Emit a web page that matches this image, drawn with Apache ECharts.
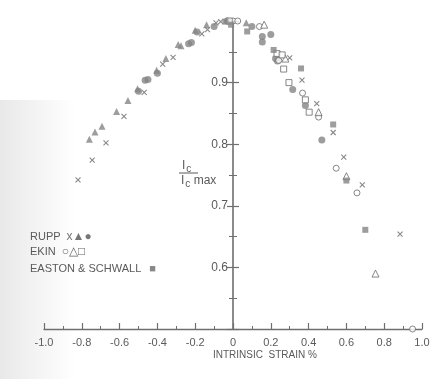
<!DOCTYPE html>
<html>
<head>
<meta charset="utf-8">
<script src="https://cdn.jsdelivr.net/npm/echarts@6/dist/echarts.min.js"></script>
<style>
html,body{margin:0;padding:0;background:#fff;}
#c{width:440px;height:379px;}
</style>
</head>
<body>
<div id="c"></div>
<script>
// ---- data (intrinsic strain %, Ic/Ic max) ----
var xTicks = [-1.0, -0.8, -0.6, -0.4, -0.2, 0, 0.2, 0.4, 0.6, 0.8, 1.0];
var yTicks = [0.6, 0.7, 0.8, 0.9];

var ruppCross = [[-0.82,0.742],[-0.745,0.774],[-0.672,0.802],[-0.577,0.845],[-0.47,0.884],[-0.372,0.93],[-0.317,0.941],[-0.165,0.979],[-0.135,0.986],[-0.09,0.997],[-0.065,0.999],[0.30,0.94],[0.365,0.904],[0.443,0.866],[0.53,0.819],[0.586,0.779],[0.684,0.734],[0.884,0.654]];
var ruppTriangle = [[-0.76,0.808],[-0.73,0.82],[-0.693,0.829],[-0.616,0.853],[-0.556,0.871],[-0.505,0.89],[-0.404,0.92],[-0.355,0.939],[-0.29,0.962],[-0.275,0.96],[-0.2,0.985],[-0.14,0.994],[0.07,0.997]];
var ruppCircle = [[-0.50,0.886],[-0.465,0.904],[-0.45,0.905],[-0.40,0.915],[-0.235,0.963],[-0.22,0.965],[-0.19,0.982],[-0.1,0.991],[-0.03,1.0],[0.10,0.991],[0.155,0.975],[0.2,0.978],[0.155,0.966],[0.225,0.939],[0.235,0.935],[0.316,0.889],[0.383,0.863],[0.47,0.807]];
var ekinCircle = [[0.0,1.0],[0.025,1.0],[0.14,0.991],[0.242,0.936],[0.368,0.883],[0.453,0.844],[0.546,0.761],[0.656,0.721],[0.95,0.5]];
var ekinTriangle = [[0.165,0.994],[0.277,0.939],[0.453,0.852],[0.60,0.748],[0.754,0.59]];
var ekinSquare = [[-0.02,1.0],[0.233,0.947],[0.26,0.945],[0.268,0.922],[0.296,0.9],[0.383,0.872],[0.403,0.852]];
var eastonSquare = [[-0.04,0.999],[-0.01,0.994],[0.075,0.983],[0.215,0.953],[0.36,0.923],[0.53,0.832],[0.60,0.741],[0.70,0.661]];

var chart = echarts.init(document.getElementById('c'), null, {renderer:'canvas'});
var FONT = 'Liberation Sans';
var AX = '#6f6f6f';
var TXT = '#5a5a5a';
var FILL = '#858585';
var OPEN = '#6a6a6a';
var GRID_L = 44, GRID_W = 378;

function fmtX(v){ if (Math.abs(v) < 1e-9) return '0'; return v.toFixed(1); }
function fmtY(v){ for (var i=0;i<yTicks.length;i++){ if (Math.abs(yTicks[i]-v)<1e-6) return v.toFixed(1);} return ''; }

function yAx(outer){
  return {
    type:'value', min:0.5, max:1.0, interval:0.1,
    position:'left', offset:-GRID_W/2,
    axisLine:{show:outer, onZero:false, lineStyle:{color:AX, width:1.6}},
    axisTick:{show:true, inside:!outer, length:6, lineStyle:{color:AX, width:1.2}},
    minorTick:{show:true, splitNumber:2, length:4, lineStyle:{color:AX, width:1}},
    axisLabel:{show:outer, formatter:fmtY, margin:5, color:TXT, fontFamily:FONT, fontSize:12},
    splitLine:{show:false}
  };
}

var crossPath = 'path://M0,0L10,10M10,0L0,10';
var openStyle = {color:'#fff', borderColor:OPEN, borderWidth:1};

chart.setOption({
  animation:false,
  backgroundColor:'#fff',
  grid:{left:GRID_L, width:GRID_W, top:21, bottom:50, containLabel:false},
  xAxis:{
    type:'value', min:-1, max:1, interval:0.2,
    axisLine:{onZero:false, lineStyle:{color:AX, width:1.3}},
    axisTick:{inside:true, length:6, lineStyle:{color:AX, width:1.2}},
    minorTick:{show:true, splitNumber:2, length:3, lineStyle:{color:AX, width:1}},
    axisLabel:{formatter:fmtX, margin:8, color:TXT, fontFamily:FONT, fontSize:11},
    splitLine:{show:false}
  },
  yAxis:[yAx(true), yAx(false)],
  graphic:[
    {type:'rect', z:-10, shape:{x:0, y:100, width:75, height:279},
     style:{fill:new echarts.graphic.LinearGradient(0,0,1,0,[{offset:0,color:'rgba(205,205,205,0.45)'},{offset:1,color:'rgba(205,205,205,0)'}])}},
    {type:'text', left:30, top:231, style:{text:'RUPP {s|x▲●}', fill:TXT, font:'11px "Liberation Sans"', rich:{s:{fontSize:12, fill:'#777', padding:[0,0,0,3]}}}},
    {type:'text', left:30, top:246, style:{text:'EKIN {s|○△□}', fill:TXT, font:'11px "Liberation Sans"', rich:{s:{fontSize:12, fill:'#666', padding:[0,0,0,3]}}}},
    {type:'text', left:30, top:263, style:{text:'EASTON & SCHWALL {s|■}', fill:TXT, font:'11px "Liberation Sans"', rich:{s:{fontSize:11, fill:'#888', padding:[0,0,0,5]}}}},
    {type:'text', left:213, top:350, style:{text:'INTRINSIC  STRAIN %', fill:TXT, font:'10px "Liberation Sans"'}},
    {type:'text', left:182, top:160, style:{text:'I{s|c}', fill:TXT, font:'12px "Liberation Sans"', rich:{s:{fontSize:10, fill:TXT, verticalAlign:'bottom', padding:[6,0,0,1]}}}},
    {type:'line', shape:{x1:179, y1:173, x2:198, y2:173}, style:{stroke:TXT, lineWidth:1}},
    {type:'text', left:181, top:175, style:{text:'I{s|c} max', fill:TXT, font:'12px "Liberation Sans"', rich:{s:{fontSize:10, fill:TXT, verticalAlign:'bottom', padding:[6,0,0,1]}}}}
  ],
  series:[
    {name:'RUPP x', type:'scatter', data:ruppCross, symbol:crossPath, symbolSize:5,
     itemStyle:{color:'rgba(0,0,0,0)', borderColor:'#6a6a6a', borderWidth:1.1}},
    {name:'RUPP ▲', type:'scatter', data:ruppTriangle, symbol:'triangle', symbolSize:7,
     itemStyle:{color:FILL}},
    {name:'RUPP ●', type:'scatter', data:ruppCircle, symbol:'circle', symbolSize:7,
     itemStyle:{color:FILL}},
    {name:'EKIN ○', type:'scatter', data:ekinCircle, symbol:'circle', symbolSize:6,
     itemStyle:openStyle},
    {name:'EKIN △', type:'scatter', data:ekinTriangle, symbol:'triangle', symbolSize:7,
     itemStyle:openStyle},
    {name:'EKIN □', type:'scatter', data:ekinSquare, symbol:'rect', symbolSize:6,
     itemStyle:openStyle},
    {name:'EASTON & SCHWALL ■', type:'scatter', data:eastonSquare, symbol:'rect', symbolSize:6,
     itemStyle:{color:FILL}}
  ]
});
</script>
</body>
</html>
